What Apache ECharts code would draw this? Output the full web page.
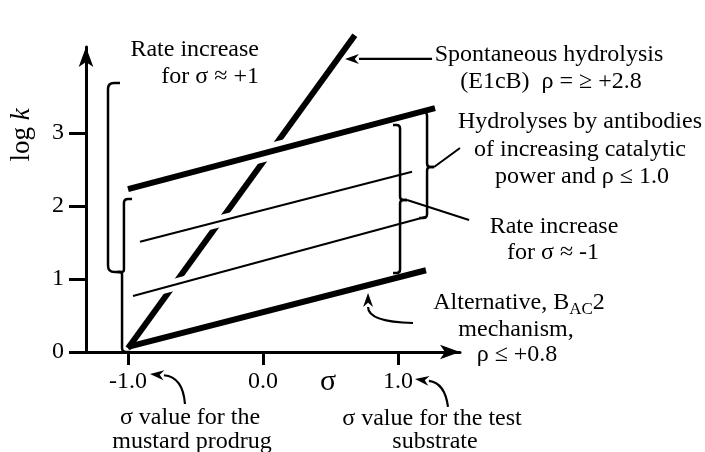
<!DOCTYPE html>
<html>
<head>
<meta charset="utf-8">
<script src="https://cdn.jsdelivr.net/npm/echarts@6/dist/echarts.min.js"></script>
<style>
  html, body { margin: 0; padding: 0; background: #fff; }
  #chart { width: 705px; height: 452px; }
</style>
</head>
<body>
<div id="chart"></div>
<script>
// tick positions on the two axes
const xTicks = [-1, 0, 1];
const yTicks = [0, 1, 2, 3];

// straight lines, [start, end] as (sigma, log k)
const spontaneous = [[-1.0, 0.05], [0.68, 4.34]];
const upperBound = [[-1.0, 2.23], [1.274, 3.34]];
const antibodyHigh = [[-0.911, 1.51], [1.104, 2.47]];
const antibodyLow = [[-0.963, 0.767], [1.2, 1.85]];
const bac2 = [[-1.0, 0.07], [1.207, 1.12]];

// braces, as corner points of rounded polylines
const braces = [
  [[-1.059, 3.685], [-1.148, 3.685], [-1.148, 1.096], [-1.052, 1.096]],
  [[-0.970, 2.096], [-1.030, 2.096], [-1.030, 1.096], [-1.067, 1.096]],
  [[-1.081, 1.096], [-1.044, 1.096], [-1.044, 0.0], [-0.985, 0.0]],
  [[1.156, 3.288], [1.215, 3.288], [1.215, 2.534], [1.267, 2.534]],
  [[1.267, 2.534], [1.215, 2.534], [1.215, 1.836], [1.156, 1.836]],
  [[0.963, 3.11], [1.015, 3.11], [1.015, 2.082], [1.067, 2.082]],
  [[1.067, 2.082], [1.015, 2.082], [1.015, 1.082], [0.963, 1.082]]
];

// thin pointer lines without heads
const pointers = [
  [[1.267, 2.534], [1.459, 2.795]],
  [[1.067, 2.082], [1.526, 1.808]]
];

// arrows: [tail, control, tip]
const arrows = [
  [[1.252, 4.014], [0.93, 4.014], [0.607, 4.014]],
  [[1.111, 0.397], [0.778, 0.411], [0.778, 0.808]],
  [[-0.578, -0.712], [-0.593, -0.342], [-0.837, -0.301]],
  [[1.370, -0.753], [1.348, -0.425], [1.126, -0.370]]
];

const FONT = '"Liberation Serif", "Times New Roman", serif';

const chart = echarts.init(document.getElementById('chart'));

function roundedPath(pts, R) {
  let d = 'M' + pts[0][0] + ' ' + pts[0][1];
  for (let i = 1; i < pts.length - 1; i++) {
    const p0 = pts[i - 1], p = pts[i], p1 = pts[i + 1];
    const l0 = Math.hypot(p[0] - p0[0], p[1] - p0[1]);
    const l1 = Math.hypot(p1[0] - p[0], p1[1] - p[1]);
    const r = Math.min(R, l0 / 2, l1 / 2);
    const a = [p[0] - (p[0] - p0[0]) / l0 * r, p[1] - (p[1] - p0[1]) / l0 * r];
    const b = [p[0] + (p1[0] - p[0]) / l1 * r, p[1] + (p1[1] - p[1]) / l1 * r];
    d += ' L' + a[0] + ' ' + a[1] + ' Q' + p[0] + ' ' + p[1] + ' ' + b[0] + ' ' + b[1];
  }
  const last = pts[pts.length - 1];
  return d + ' L' + last[0] + ' ' + last[1];
}

function seg(api, pair, width, color) {
  const a = api.coord(pair[0]), b = api.coord(pair[1]);
  return { type: 'line', shape: { x1: a[0], y1: a[1], x2: b[0], y2: b[1] },
           style: { stroke: color, lineWidth: width, lineCap: 'butt' } };
}

function text(x, y, str, align, extra) {
  return Object.assign({
    type: 'text', x: x, y: y, z: 100,
    style: { text: str, fontFamily: FONT, fontSize: 24, fill: '#000',
             align: align || 'center', verticalAlign: 'middle' }
  }, extra || {});
}

const option = {
  backgroundColor: '#fff',
  animation: false,
  grid: { left: 86, right: 245, top: 47, bottom: 100, outerBoundsMode: 'none' },
  xAxis: {
    type: 'value', min: -1.311, max: 1.459,
    axisLine: { onZero: false, symbol: ['none', 'arrow'], symbolSize: [11, 20],
                lineStyle: { color: '#000', width: 3 } },
    axisTick: { customValues: xTicks, length: 13, lineStyle: { color: '#000', width: 3 } },
    axisLabel: { customValues: xTicks, formatter: v => v.toFixed(1), margin: 18,
                 fontFamily: FONT, fontSize: 24, color: '#000' },
    splitLine: { show: false }
  },
  yAxis: {
    type: 'value', min: 0, max: 4.178,
    axisLine: { onZero: false, symbol: ['none', 'arrow'], symbolSize: [11, 20],
                lineStyle: { color: '#000', width: 3 } },
    axisTick: { customValues: yTicks, length: 17, lineStyle: { color: '#000', width: 3 } },
    axisLabel: { customValues: yTicks, margin: 22,
                 fontFamily: FONT, fontSize: 24, color: '#000' },
    splitLine: { show: false }
  },
  series: [
    {
      // the five rate lines; crossing lines get a white halo so the steep line shows a gap
      type: 'custom', z: 4, clip: false, silent: true,
      data: [spontaneous[0]],
      renderItem: function (params, api) {
        return {
          type: 'group',
          children: [
            seg(api, spontaneous, 6, '#000'),
            seg(api, upperBound, 17, '#fff'),
            seg(api, antibodyHigh, 12, '#fff'),
            seg(api, antibodyLow, 12, '#fff'),
            seg(api, upperBound, 6, '#000'),
            seg(api, antibodyHigh, 2, '#000'),
            seg(api, antibodyLow, 2, '#000'),
            seg(api, bac2, 6, '#000')
          ]
        };
      }
    },
    {
      type: 'custom', z: 5, clip: false, silent: true,
      data: braces.map(b => b[0]),
      renderItem: function (params, api) {
        const pts = braces[params.dataIndex].map(p => api.coord(p));
        return { type: 'path', shape: { pathData: roundedPath(pts, 8) },
                 style: { fill: 'none', stroke: '#000', lineWidth: 2.5 } };
      }
    },
    {
      type: 'custom', z: 5, clip: false, silent: true,
      data: pointers.map(p => p[0]),
      renderItem: function (params, api) {
        return seg(api, pointers[params.dataIndex], 2, '#000');
      }
    },
    {
      type: 'custom', z: 5, clip: false, silent: true,
      data: arrows.map(a => a[0]),
      renderItem: function (params, api) {
        const [t, c, h] = arrows[params.dataIndex].map(q => api.coord(q));
        const len = Math.hypot(h[0] - c[0], h[1] - c[1]);
        const u = [(h[0] - c[0]) / len, (h[1] - c[1]) / len];
        const n = [-u[1], u[0]];
        const L = 14, W = 5;
        const base = [h[0] - u[0] * L, h[1] - u[1] * L];
        return {
          type: 'group',
          children: [
            { type: 'path',
              shape: { pathData: 'M' + t[0] + ' ' + t[1] + ' Q' + c[0] + ' ' + c[1] + ' ' + base[0] + ' ' + base[1] },
              style: { fill: 'none', stroke: '#000', lineWidth: 2.2 } },
            { type: 'polygon',
              shape: { points: [h, [base[0] + n[0] * W, base[1] + n[1] * W],
                                [h[0] - u[0] * L * 0.7, h[1] - u[1] * L * 0.7],
                                [base[0] - n[0] * W, base[1] - n[1] * W]] },
              style: { fill: '#000' } }
          ]
        };
      }
    }
  ],
  graphic: [
    text(22, 135, '', 'center', {
      rotation: Math.PI / 2,
      style: { text: '{n|log }{i|k}', fontFamily: FONT, fontSize: 27, fill: '#000',
               align: 'center', verticalAlign: 'middle',
               rich: { n: { fontFamily: FONT, fontSize: 27, fill: '#000' },
                       i: { fontFamily: FONT, fontSize: 27, fontStyle: 'italic', fill: '#000' } } }
    }),
    text(328, 382, '', 'center', { style: { text: 'σ', fontFamily: FONT, fontSize: 30, fill: '#000', align: 'center', verticalAlign: 'middle' } }),
    text(259, 50, 'Rate increase', 'right'),
    text(259, 77, 'for σ ≈ +1', 'right'),
    text(549, 55, 'Spontaneous hydrolysis'),
    text(551, 82, '(E1cB)  ρ = ≥ +2.8'),
    text(580, 122, 'Hydrolyses by antibodies'),
    text(580, 150, 'of increasing catalytic'),
    text(582, 177, 'power and ρ ≤ 1.0'),
    text(554, 227, 'Rate increase'),
    text(553, 253, 'for σ ≈ -1'),
    text(519, 303, '', 'center', {
      style: { text: 'Alternative, B{s|AC}2', fontFamily: FONT, fontSize: 24, fill: '#000',
               align: 'center', verticalAlign: 'middle', lineHeight: 30,
               rich: { s: { fontFamily: FONT, fontSize: 17, lineHeight: 17, verticalAlign: 'bottom', fill: '#000' } } }
    }),
    text(516, 330, 'mechanism,'),
    text(517, 355, 'ρ ≤ +0.8'),
    text(190, 418, 'σ value for the'),
    text(192, 442, 'mustard prodrug'),
    text(432, 419, 'σ value for the test'),
    text(435, 442, 'substrate')
  ]
};

chart.setOption(option);
window.addEventListener('resize', () => chart.resize());
</script>
</body>
</html>
